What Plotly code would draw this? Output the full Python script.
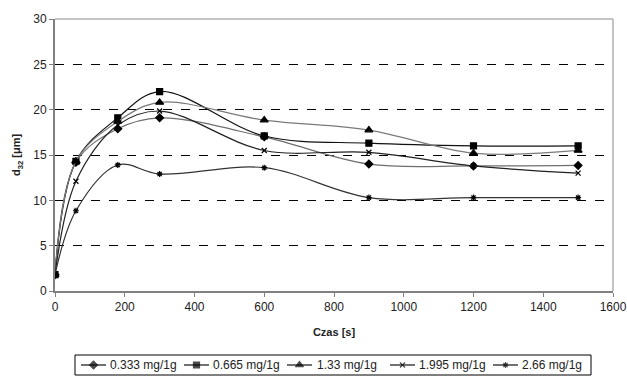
import plotly.graph_objects as go

time_s = [0, 60, 180, 300, 600, 900, 1200, 1500]
series_names = ["0.333 mg/1g", "0.665 mg/1g", "1.33 mg/1g", "1.995 mg/1g", "2.66 mg/1g"]
d32_0333 = [1.8, 14.2, 17.9, 19.1, 17.0, 14.0, 13.8, 13.85]
d32_0665 = [1.8, 14.3, 19.1, 22.0, 17.1, 16.3, 16.0, 16.0]
d32_133 = [1.8, 14.3, 18.7, 20.8, 18.85, 17.75, 15.2, 15.5]
d32_1995 = [1.8, 12.1, 18.3, 19.85, 15.5, 15.3, 13.8, 13.0]
d32_266 = [1.8, 8.85, 13.9, 12.9, 13.6, 10.3, 10.3, 10.3]

values = [d32_0333, d32_0665, d32_133, d32_1995, d32_266]
symbols = ["diamond", "square", "triangle-up", "x-thin-open", "asterisk-open"]
sizes = [6, 6, 7, 5, 5]
line_colors = ["#6e6e6e", "#111111", "#7a7a7a", "#222222", "#333333"]

# layout of the hand-made legend (pixel units of an overlay axis)
W, H = 627, 376
ML, MR, MT = 55, 14, 19
PLOT_BOTTOM = 291
legend_line_x0 = [81, 184, 287, 390, 493]
legend_text_x = [110, 213, 317, 419, 522]
legend_box = (75, 355, 591, 375)
legend_y = 365

fig = go.Figure()
for name, vals, sym, sz, lc in zip(series_names, values, symbols, sizes, line_colors):
    fig.add_trace(go.Scatter(
        x=time_s, y=vals, name=name, mode="lines+markers", showlegend=False,
        line=dict(color=lc, width=1.2, shape="spline", smoothing=1.0),
        marker=dict(symbol=sym, size=sz, color="black",
                    line=dict(color="black", width=1.2)),
    ))

# legend keys on overlay axes (x2/y2 in pixels)
for name, sym, sz, lc, lx, tx in zip(series_names, symbols, sizes, line_colors,
                                     legend_line_x0, legend_text_x):
    fig.add_trace(go.Scatter(
        x=[lx, lx + 12.5, lx + 25], y=[legend_y] * 3, xaxis="x2", yaxis="y2",
        mode="lines+markers", showlegend=False, hoverinfo="skip",
        line=dict(color="#111111", width=1.2),
        marker=dict(symbol=sym, size=[0, sz, 0], color="black",
                    line=dict(color="black", width=1.2)),
    ))
    fig.add_annotation(x=tx, y=legend_y, xref="x2", yref="y2", text=name,
                       showarrow=False, xanchor="left", yanchor="middle",
                       font=dict(size=12, color="#222"), borderpad=0, xshift=-1)

fig.add_shape(type="rect", xref="x2", yref="y2",
              x0=legend_box[0], y0=legend_box[1], x1=legend_box[2], y1=legend_box[3],
              line=dict(color="black", width=1), fillcolor="rgba(0,0,0,0)", layer="below")

paper_h = H - MT
ydom_bottom = (H - PLOT_BOTTOM) / paper_h

font = "Liberation Sans, Arial, sans-serif"
fig.update_layout(
    width=W, height=H,
    margin=dict(l=ML, r=MR, t=MT, b=0, autoexpand=False),
    paper_bgcolor="white", plot_bgcolor="rgba(0,0,0,0)",
    font=dict(family=font, size=12, color="#222"),
    showlegend=False,
    xaxis=dict(range=[0, 1600], dtick=200, showgrid=False, zeroline=False, automargin=False,
               showline=True, linecolor="#808080", linewidth=2, anchor="y",
               ticks="outside", ticklen=4, tickcolor="#808080",
               title=dict(text="<b>Czas [s]</b>", font=dict(size=11), standoff=15)),
    yaxis=dict(range=[0, 30], dtick=5, showgrid=True, gridcolor="black", griddash="dash",
               gridwidth=1, zeroline=False, automargin=False, domain=[ydom_bottom, 1],
               showline=True, linecolor="#808080", linewidth=2,
               ticks="outside", ticklen=4, tickcolor="#808080",
               title=dict(text="<b>d<sub>32</sub> [μm]</b>", font=dict(size=11), standoff=10)),
    xaxis2=dict(domain=[0, 1], range=[ML, W - MR], visible=False, anchor="y2",
                fixedrange=True),
    yaxis2=dict(domain=[0, ydom_bottom], range=[H, PLOT_BOTTOM], visible=False,
                anchor="x2", fixedrange=True),
)
# top and right plot border (grey)
fig.add_shape(type="line", xref="x domain", yref="y domain", x0=0, x1=1, y0=1, y1=1,
              line=dict(color="#b0b0b0", width=1.5))
fig.add_shape(type="line", xref="x domain", yref="y domain", x0=1, x1=1, y0=0, y1=1,
              line=dict(color="#b0b0b0", width=1.5))

fig.write_html("out.html")
